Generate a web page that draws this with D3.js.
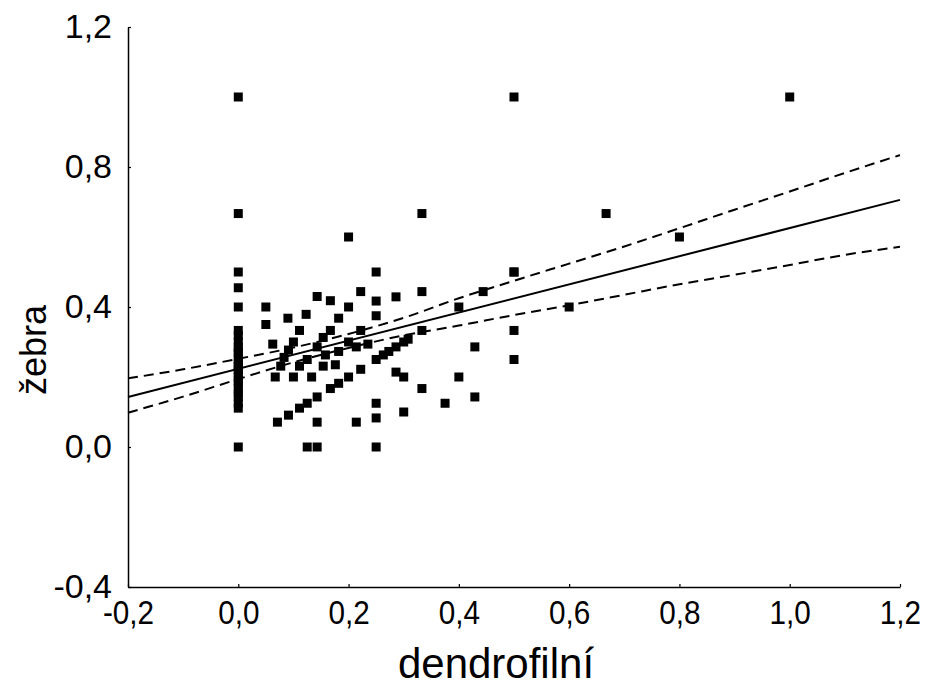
<!DOCTYPE html>
<html>
<head>
<meta charset="utf-8">
<script src="https://cdn.jsdelivr.net/npm/d3@7"></script>
<style>
  body { margin: 0; background: #fff; }
  text { font-family: "Liberation Sans", Arial, sans-serif; fill: #000; }
</style>
</head>
<body>
<svg id="chart"></svg>
<script>
// scatter points, dendrofilní (x) vs žebra (y)
const xs = [
  0, 0, 0, 0, 0, 0, 0, 0, 0, 0, 0, 0, 0, 0, 0, 0, 0, 0, 0, 0, 0, 0, 0, 0, 0,
  0.05, 0.05, 0.09, 0.123, 0.143, 0.167, 0.2, 0.182, 0.111, 0.167,
  0.0625, 0.1, 0.154, 0.2, 0.091, 0.143, 0.125, 0.158, 0.182, 0.083,
  0.077, 0.111, 0.154, 0.176, 0.067, 0.1, 0.133, 0.2, 0.167, 0.182,
  0.143, 0.125, 0.111, 0.091, 0.071, 0.143, 0.125, 0.143,
  0.2, 0.25, 0.222, 0.25, 0.286, 0.333, 0.444, 0.25, 0.4, 0.222, 0.333,
  0.214, 0.235, 0.25, 0.263, 0.273, 0.286, 0.3, 0.308, 0.222,
  0.286, 0.3, 0.4, 0.333, 0.429, 0.429, 0.375, 0.25, 0.25, 0.3, 0.214, 0.25,
  0.5, 0.5, 0.5, 0.5, 0.5, 0.333, 0.6, 0.667, 0.8, 1.0
]
const ys = [
  1.0, 0.667, 0.5, 0.455, 0.4, 0.333, 0.318, 0.3, 0.286, 0.273, 0.267, 0.25, 0.24,
  0.231, 0.222, 0.214, 0.2, 0.19, 0.182, 0.167, 0.154, 0.143, 0.125, 0.111, 0.0,
  0.4, 0.35, 0.368, 0.379, 0.43, 0.418, 0.4, 0.368, 0.333, 0.333,
  0.294, 0.3, 0.313, 0.3, 0.277, 0.286, 0.25, 0.263, 0.273, 0.256,
  0.231, 0.231, 0.231, 0.235, 0.2, 0.2, 0.2, 0.2, 0.167, 0.182,
  0.143, 0.125, 0.111, 0.091, 0.071, 0.071, 0.0, 0.0,
  0.6, 0.5, 0.444, 0.417, 0.429, 0.444, 0.444, 0.375, 0.4, 0.333, 0.333,
  0.286, 0.294, 0.25, 0.263, 0.273, 0.286, 0.3, 0.308, 0.222,
  0.214, 0.2, 0.2, 0.167, 0.286, 0.143, 0.125, 0.125, 0.083, 0.1, 0.071, 0.0,
  1.0, 0.5, 0.333, 0.25, 0.5, 0.667, 0.4, 0.667, 0.6, 1.0
]

// fitted line and 95% confidence band
const fitX = [-0.2, 1.2]
const fitY = [0.143, 0.706]
const bandX = [-0.2, -0.1, 0, 0.1, 0.2, 0.3, 0.4, 0.5, 0.6, 0.7, 0.8, 0.9, 1.0, 1.1, 1.2]
const upper = [0.196, 0.222, 0.252, 0.284, 0.323, 0.369, 0.425, 0.475, 0.524, 0.573, 0.625, 0.678, 0.73, 0.783, 0.834]
const lower = [0.098, 0.144, 0.194, 0.242, 0.283, 0.319, 0.347, 0.377, 0.405, 0.435, 0.465, 0.492, 0.52, 0.549, 0.572]

const xTicks = [-0.2, 0, 0.2, 0.4, 0.6, 0.8, 1.0, 1.2]
const yTicks = [-0.4, 0, 0.4, 0.8, 1.2]

const width = 926, height = 686
const margin = {top: 27, right: 26, bottom: 99, left: 128}

const svg = d3.select("#chart")
  .attr("width", width)
  .attr("height", height)

const x = d3.scaleLinear().domain([-0.2, 1.2]).range([margin.left, width - margin.right])
const y = d3.scaleLinear().domain([-0.4, 1.2]).range([height - margin.bottom, margin.top])

// czech decimal comma, plain hyphen for minus
const fmt = d => d3.format(".1f")(d).replace(".", ",").replace("\u2212", "-")

// axes
let xAxis = svg.append("g")
  .attr("transform", `translate(0,${height - margin.bottom})`)
  .call(d3.axisBottom(x).tickValues(xTicks).tickFormat(fmt).tickSizeInner(-3).tickSizeOuter(0).tickPadding(14))
xAxis.selectAll("text")
  .attr("font-size", 33)
  .attr("font-family", "Liberation Sans")
  .attr("fill", "#000")
  .attr("transform", "scale(0.9,1)")

let yAxis = svg.append("g")
  .attr("transform", `translate(${margin.left},0)`)
  .call(d3.axisLeft(y).tickValues(yTicks).tickFormat(fmt).tickSizeInner(-3).tickSizeOuter(0).tickPadding(16))
yAxis.selectAll("text").attr("font-size", 34).attr("font-family", "Liberation Sans").attr("fill", "#000")

svg.selectAll(".domain").attr("stroke", "#000").attr("stroke-width", 1.5)
svg.selectAll(".tick line").attr("stroke", "#000").attr("stroke-width", 1.2)

// confidence band
let bandLine = d3.line().x(d => x(d[0])).y(d => y(d[1])).curve(d3.curveMonotoneX)
;[upper, lower].forEach(arr => {
  svg.append("path")
    .datum(bandX.map((v, i) => [v, arr[i]]))
    .attr("d", bandLine)
    .attr("fill", "none")
    .attr("stroke", "#000")
    .attr("stroke-width", 2)
    .attr("stroke-dasharray", "10,6")
})

// regression line
svg.append("path")
  .datum(fitX.map((v, i) => [v, fitY[i]]))
  .attr("d", bandLine)
  .attr("fill", "none")
  .attr("stroke", "#000")
  .attr("stroke-width", 2)

// points
let sz = 9
svg.append("g").selectAll("rect")
  .data(xs.map((v, i) => [v, ys[i]]))
  .enter()
  .append("rect")
  .attr("x", d => x(d[0]) - sz / 2)
  .attr("y", d => y(d[1]) - sz / 2)
  .attr("width", sz)
  .attr("height", sz)
  .attr("fill", "#000")

// axis titles
svg.append("text")
  .attr("x", 496)
  .attr("y", 678)
  .attr("text-anchor", "middle")
  .attr("font-size", 42)
  .text("dendrofilní")

svg.append("text")
  .attr("transform", `translate(46,350) rotate(-90)`)
  .attr("text-anchor", "middle")
  .attr("font-size", 36)
  .text("žebra")
</script>
</body>
</html>
